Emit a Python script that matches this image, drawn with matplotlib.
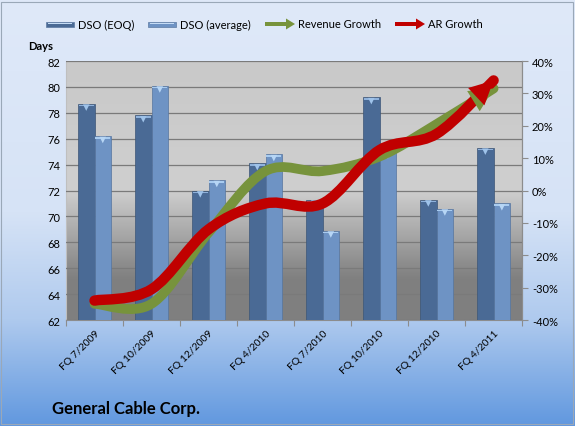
import numpy as np
import matplotlib
matplotlib.use("Agg")
import matplotlib.pyplot as plt
from matplotlib.path import Path
from matplotlib.patches import PathPatch, Rectangle, FancyArrow
from matplotlib.colors import LinearSegmentedColormap

plt.rcParams["font.family"] = ["Lato", "DejaVu Sans"]
plt.rcParams["font.size"] = 8

quarters = ["FQ 7/2009", "FQ 10/2009", "FQ 12/2009", "FQ 4/2010",
            "FQ 7/2010", "FQ 10/2010", "FQ 12/2010", "FQ 4/2011"]
dso_eoq = [78.7, 77.8, 72.0, 74.1, 71.3, 79.2, 71.3, 75.3]
dso_avg = [76.2, 80.1, 72.8, 74.8, 68.9, 75.0, 70.6, 71.0]
revenue_growth = [-35.0, -35.0, -13.0, 6.0, 6.0, 10.5, 20.5, 31.5]
ar_growth = [-34.0, -30.5, -12.0, -4.0, -4.0, 12.5, 17.5, 34.0]

EOQ_COLOR = "#4a6a95"
AVG_COLOR = "#6e93c4"
GREEN = "#77933c"
RED = "#c00000"

fig = plt.figure(figsize=(5.75, 4.27), dpi=100)

# figure background gradient
bg = fig.add_axes([0, 0, 1, 1], zorder=-10)
bg_cmap = LinearSegmentedColormap.from_list(
    "bg", [(0, "#dfe9f9"), (0.5, "#d6e3f6"), (0.75, "#afcaee"), (1, "#6198df")])
bg.imshow(np.linspace(0, 1, 256).reshape(-1, 1), aspect="auto", cmap=bg_cmap,
          extent=[0, 1, 0, 1], origin="upper")
bg.add_patch(Rectangle((0.002, 0.004), 0.994, 0.99, fill=False, ec="#9aa8b8", lw=0.8))
bg.set_xlim(0, 1)
bg.set_ylim(0, 1)
bg.axis("off")

ax = fig.add_axes([0.1148, 0.2482, 0.7932, 0.6066])
ax.set_facecolor("none")
plot_cmap = LinearSegmentedColormap.from_list(
    "pa", [(0, "#c9c9c9"), (0.5, "#cfcfcf"), (0.84, "#808080"), (1, "#7f7f7f")])
ax.imshow(np.linspace(0, 1, 256).reshape(-1, 1), aspect="auto", cmap=plot_cmap,
          extent=[0, 1, 0, 1], origin="upper", transform=ax.transAxes, zorder=0)

x = np.arange(len(quarters))
w = 0.29
ax.bar(x - w / 2, [v - 62 for v in dso_eoq], w, bottom=62, color=EOQ_COLOR,
       edgecolor="#3d5677", lw=0.5, zorder=3)
ax.bar(x + w / 2, [v - 62 for v in dso_avg], w, bottom=62, color=AVG_COLOR,
       edgecolor="#56759f", lw=0.5, zorder=3)
# light caps on bar tops
ax.bar(x - w / 2, 0.12, w * 0.9, bottom=np.array(dso_eoq) - 0.2, color="#8fb2dc",
       lw=0, zorder=4)
ax.bar(x + w / 2, 0.12, w * 0.9, bottom=np.array(dso_avg) - 0.2, color="#a9ccf0",
       lw=0, zorder=4)
ax.scatter(x - w / 2, np.array(dso_eoq) - 0.3, marker="v", s=22, color="#9fc3ea",
           edgecolors="none", zorder=4)
ax.scatter(x + w / 2, np.array(dso_avg) - 0.3, marker="v", s=22, color="#b7d6f5",
           edgecolors="none", zorder=4)

ax.set_xlim(-0.5, len(quarters) - 0.5)
ax.set_ylim(62, 82)
ax.set_yticks(np.arange(62, 83, 2))
ax.yaxis.grid(True, color="#7a7a7a", lw=0.9)
ax.set_axisbelow(False)
for gl in ax.get_ygridlines():
    gl.set_zorder(1)
ax.set_xticks(np.arange(-0.5, len(quarters), 1), minor=False)
ax.set_xticklabels([])
ax.set_xticks(x, minor=True)
ax.set_xticklabels(quarters, minor=True, rotation=45, ha="right",
                   rotation_mode="anchor", fontsize=7.5)
ax.tick_params(axis="x", which="minor", length=0, pad=6)
ax.tick_params(axis="x", which="major", length=4, color="#8c8c8c")
ax.tick_params(axis="y", length=0, pad=4, labelsize=8)
ax.spines["top"].set_visible(False)
ax.spines["left"].set_color("#bfbfbf")
ax.spines["bottom"].set_color("#8c8c8c")
ax.spines["right"].set_color("#8c8c8c")

ax2 = ax.twinx()
ax2.set_ylim(-40, 40)
ax2.set_yticks(np.arange(-40, 41, 10))
ax2.set_yticklabels([f"{v}%" for v in range(-40, 41, 10)])
ax2.tick_params(axis="y", length=4, color="#8c8c8c", labelsize=8, pad=3)
ax2.spines["right"].set_color("#8c8c8c")
ax2.spines["top"].set_visible(False)
ax2.spines["left"].set_visible(False)
ax2.spines["bottom"].set_visible(False)


def smooth_path(xs, ys):
    pts = np.column_stack([xs, ys]).astype(float)
    n = len(pts)
    verts = [pts[0]]
    codes = [Path.MOVETO]
    for i in range(n - 1):
        p0 = pts[max(i - 1, 0)]
        p1 = pts[i]
        p2 = pts[i + 1]
        p3 = pts[min(i + 2, n - 1)]
        c1 = p1 + (p2 - p0) / 6
        c2 = p2 - (p3 - p1) / 6
        verts += [c1, c2, p2]
        codes += [Path.CURVE4] * 3
    return Path(verts, codes), verts[-2]


for series, color, lw in [(revenue_growth, GREEN, 7), (ar_growth, RED, 7.5)]:
    path, ctrl = smooth_path(x, series)
    ax2.add_patch(PathPatch(path, fill=False, ec=color, lw=lw, capstyle="round",
                            joinstyle="round", zorder=5))
    end = (x[-1], series[-1])
    ax2.annotate("", xy=end, xytext=(ctrl[0], ctrl[1]),
                 arrowprops=dict(arrowstyle="-|>,head_length=0.9,head_width=0.45",
                                 mutation_scale=19, color=color, lw=0,
                                 shrinkA=0, shrinkB=0),
                 zorder=6)

fig.text(28 / 575, 1 - 47 / 427, "Days", fontsize=8, fontweight="bold", va="center")
fig.text(52 / 575, 1 - 409 / 427, "General Cable Corp.", fontsize=12,
         fontweight="bold", va="center")

# legend
ly = 1 - 25 / 427
items = [(46, "bar", EOQ_COLOR, "DSO (EOQ)"), (148, "bar", AVG_COLOR, "DSO (average)"),
         (265, "arrow", GREEN, "Revenue Growth"), (395, "arrow", RED, "AR Growth")]
for px, kind, color, label in items:
    x0 = px / 575
    if kind == "bar":
        fig.add_artist(Rectangle((x0, ly - 3 / 427), 28 / 575, 5 / 427, color=color,
                                 ec="#5c7aa3", lw=0.5))
        fig.add_artist(Rectangle((x0 + 2 / 575, ly), 24 / 575, 1.5 / 427,
                                 color="#c5dcf5", lw=0))
        tx = (px + 32) / 575
    else:
        fig.add_artist(FancyArrow(x0, ly, 30 / 575, 0, width=4 / 427,
                                  head_width=11 / 427, head_length=9 / 575,
                                  length_includes_head=True, color=color, lw=0))
        tx = (px + 33) / 575
    fig.text(tx, ly, label, fontsize=8, va="center")

fig.savefig("out.png", dpi=100)
